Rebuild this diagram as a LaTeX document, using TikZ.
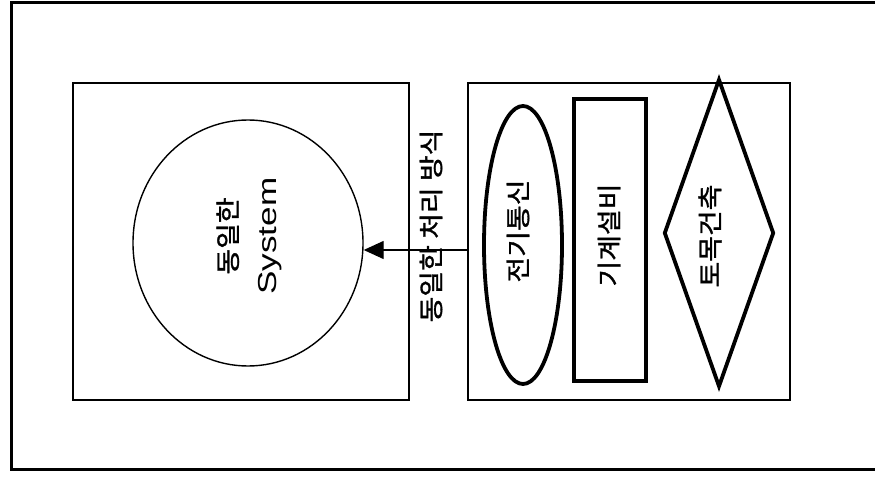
\documentclass[tikz,border=0pt]{standalone}
\usepackage{fontspec}
\setmainfont{Liberation Sans}
\newfontfamily\kr[FakeBold=1.2]{Noto Sans CJK KR}
\usetikzlibrary{shapes.geometric,arrows.meta}
\newcommand{\krs}[1]{\scalebox{1.12}[1]{\kr #1}}
\newcommand{\las}[1]{\scalebox{1.35}[1]{\fontsize{26}{39}\selectfont #1}}
\begin{document}
\begin{tikzpicture}[x=1pt,y=-1pt,
  frame/.style={line width=3pt},
  box/.style={draw,line width=1.4pt,inner sep=0pt},
  thickshape/.style={draw,line width=3.8pt,inner sep=0pt},
  vtext/.style={rotate=90,inner sep=0pt,font=\fontsize{25}{39}\selectfont,align=center},
  arr/.style={line width=1.4pt,-{Triangle[length=20pt,width=18pt]}}]
\useasboundingbox (0,0) rectangle (875,481);
\fill[white] (0,0) rectangle (875,481);
\draw[frame] (875,3) -- (11,3) -- (11,469) -- (875,469);
% boxes
\node[box,rectangle,minimum width=336pt,minimum height=317pt] (lbox) at (241,241.5) {};
\node[box,rectangle,minimum width=322pt,minimum height=317pt] (rbox) at (629,241.5) {};
% circle
\node[draw,line width=1.4pt,ellipse,inner sep=0pt,minimum width=230pt,minimum height=246pt] (sys) at (248,243) {};
\node[vtext] (systxt) at (249,236) {\krs{동일한}\\\las{System}};
% inner shapes
\node[thickshape,ellipse,minimum width=78pt,minimum height=278pt] (tel) at (523,245) {};
\node[vtext] (teltxt) at (518,231) {\krs{전기통신}};
\node[thickshape,rectangle,minimum width=72pt,minimum height=282pt] (mech) at (610,240) {};
\node[vtext] (mechtxt) at (609,235) {\krs{기계설비}};
\node[thickshape,diamond,aspect=0.36,minimum width=110pt,minimum height=308pt] (civ) at (719,233) {};
\node[vtext] (civtxt) at (710,236) {\krs{토목건축}};
% connector
\coordinate (start) at (rbox.west |- 0,250);
\draw[arr] (start) -- (sys.east |- start);
\node[vtext] (lab) at (431,226) {\krs{동일한 처리 방식}};
\end{tikzpicture}
\end{document}
